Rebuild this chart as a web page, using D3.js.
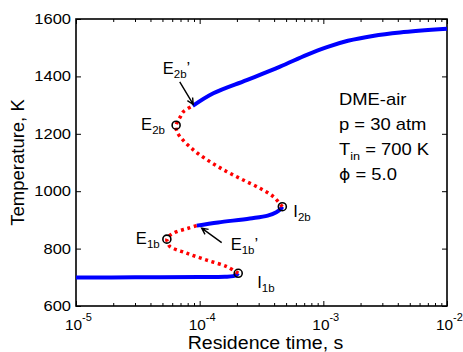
<!DOCTYPE html>
<html lang="en">
<head>
<meta charset="UTF-8">
<title>S-curve DME-air</title>
<style>
  body { margin: 0; background: #fff; }
  text { font-family: "Liberation Sans", Arial, sans-serif; fill: #000; }
</style>
</head>
<body>
<svg></svg>
<script src="https://cdn.jsdelivr.net/npm/d3@7"></script>
<script>
// residence time (s) / temperature (K), branch by branch
var lowTau = [1.0e-5, 3.0e-5, 1.0e-4, 1.6e-4, 1.87e-4, 1.98e-4, 2.05e-4];
var lowT   = [699, 700, 701, 702, 704, 708, 714];

var unst1Tau = [2.05e-4, 1.66e-4, 1.14e-4, 7.85e-5, 5.75e-5, 5.52e-5, 5.43e-5, 5.82e-5, 6.52e-5, 7.94e-5, 9.46e-5];
var unst1T   = [714, 737, 760, 784, 807, 820, 833, 848, 859, 870, 880];

var midTau = [9.46e-5, 1.41e-4, 2.55e-4, 3.55e-4, 4.17e-4, 4.52e-4, 4.66e-4];
var midT   = [880, 891, 905, 915, 927, 938, 946];

var unst2Tau = [4.66e-4, 3.94e-4, 3.08e-4, 2.25e-4, 1.66e-4, 1.21e-4, 8.89e-5, 6.93e-5, 6.5e-5, 6.45e-5, 6.95e-5, 7.38e-5, 8.79e-5];
var unst2T   = [946, 981, 1010, 1039, 1068, 1103, 1144, 1190, 1212, 1230, 1258, 1277, 1297];

var highTau = [8.79e-5, 1.29e-4, 2.40e-4, 4.47e-4, 7.35e-4, 1.07e-3, 1.58e-3, 2.51e-3, 4.17e-3, 1.0e-2];
var highT   = [1297, 1341, 1387, 1434, 1475, 1502, 1524, 1541, 1553, 1566];

// turning points (circles)
var markName = ["I1b", "E1b", "I2b", "E2b"];
var markTau  = [2.05e-4, 5.43e-5, 4.66e-4, 6.45e-5];
var markT    = [714, 833, 946, 1230];

var xTicks = [1e-5, 1e-4, 1e-3, 1e-2];
var xTickExp = ["-5", "-4", "-3", "-2"];
var yTicks = [600, 800, 1000, 1200, 1400, 1600];

var W = 463, H = 352;
var margin = {top: 19, right: 16, bottom: 46, left: 76};

var svg = d3.select("svg").attr("width", W).attr("height", H);

var x = d3.scaleLog().domain([1e-5, 1e-2]).range([margin.left, W - margin.right]);
var y = d3.scaleLinear().domain([600, 1600]).range([H - margin.bottom, margin.top]);

var minorTicks = [];
[-5, -4, -3].forEach(function(e) {
  for (var k = 2; k <= 9; k++) minorTicks.push(k * Math.pow(10, e));
});

// inward ticks on all four sides
function tickGroup(axis, tx, ty) {
  svg.append("g")
    .attr("transform", "translate(" + tx + "," + ty + ")")
    .call(axis)
    .call(function(g) { g.select(".domain").remove(); })
    .call(function(g) { g.selectAll("line").attr("stroke", "#000").attr("stroke-width", 1); });
}
var x0 = margin.left, x1 = W - margin.right, y0 = H - margin.bottom, y1 = margin.top;
tickGroup(d3.axisBottom(x).tickValues(xTicks).tickSize(-5).tickFormat(""), 0, y0);
tickGroup(d3.axisBottom(x).tickValues(minorTicks).tickSize(-3).tickFormat(""), 0, y0);
tickGroup(d3.axisTop(x).tickValues(xTicks).tickSize(-5).tickFormat(""), 0, y1);
tickGroup(d3.axisTop(x).tickValues(minorTicks).tickSize(-3).tickFormat(""), 0, y1);
tickGroup(d3.axisLeft(y).tickValues(yTicks).tickSize(-5).tickFormat(""), x0, 0);
tickGroup(d3.axisRight(y).tickValues(yTicks).tickSize(-5).tickFormat(""), x1, 0);

svg.append("rect")
  .attr("x", x0).attr("y", y1)
  .attr("width", x1 - x0).attr("height", y0 - y1)
  .attr("fill", "none").attr("stroke", "#000").attr("stroke-width", 1.6);

// text squeezed wider like the original figure
function stext(px, py, size, sx) {
  return svg.append("text")
    .attr("transform", "translate(" + px + "," + py + ") scale(" + sx + ",1)")
    .attr("font-size", size);
}

// tick labels
yTicks.forEach(function(v) {
  stext(x0 - 5, y(v) + 5, 14, 1.18).attr("text-anchor", "end").text(v);
});
xTicks.forEach(function(v, i) {
  var t = stext(x(v) - 11, y0 + 23.5, 14, 1.1);
  t.append("tspan").text("10");
  t.append("tspan").attr("font-size", 10).attr("dy", -9).text(xTickExp[i]);
});

// axis titles
stext((x0 + x1) / 2 + 4, 349, 17.5, 1.12).attr("text-anchor", "middle").text("Residence time, s");
svg.append("text")
  .attr("transform", "translate(24," + ((y0 + y1) / 2) + ") rotate(-90)")
  .attr("text-anchor", "middle")
  .attr("font-size", 18.5)
  .text("Temperature, K");

// curves
var line = d3.line()
  .x(function(d) { return x(d[0]); })
  .y(function(d) { return y(d[1]); })
  .curve(d3.curveCatmullRom.alpha(0.5));

function pairs(a, b) { return a.map(function(v, i) { return [v, b[i]]; }); }

var stable = [pairs(lowTau, lowT), pairs(midTau, midT), pairs(highTau, highT)];
var unstable = [pairs(unst1Tau, unst1T), pairs(unst2Tau, unst2T)];

svg.append("g").selectAll("path")
  .data(stable)
  .join("path")
  .attr("d", line)
  .attr("fill", "none")
  .attr("stroke", "#0000ff")
  .attr("stroke-width", 4);

svg.append("g").selectAll("path")
  .data(unstable)
  .join("path")
  .attr("d", line)
  .attr("fill", "none")
  .attr("stroke", "#ff0000")
  .attr("stroke-width", 3.5)
  .attr("stroke-dasharray", "3,3.6");

svg.append("g").selectAll("circle")
  .data(markName)
  .join("circle")
  .attr("cx", function(d, i) { return x(markTau[i]); })
  .attr("cy", function(d, i) { return y(markT[i]); })
  .attr("r", 4)
  .attr("fill", "none")
  .attr("stroke", "#000")
  .attr("stroke-width", 1.6);

// point labels: letter + subscript (+ prime)
function ptLabel(px, py, letter, sub, prime) {
  var t = svg.append("text").attr("x", px).attr("y", py).attr("font-size", 16.5);
  t.append("tspan").text(letter);
  t.append("tspan").attr("font-size", 11.5).attr("dy", 4).text(sub);
  if (prime) t.append("tspan").attr("dy", -4).text("\u2019");
}
function arrow(ax, ay, bx, by) {
  var a = Math.atan2(by - ay, bx - ax), L = 7, s = 0.45;
  var d = "M" + ax + "," + ay + "L" + bx + "," + by +
    "M" + (bx - L * Math.cos(a - s)) + "," + (by - L * Math.sin(a - s)) +
    "L" + bx + "," + by +
    "L" + (bx - L * Math.cos(a + s)) + "," + (by - L * Math.sin(a + s));
  svg.append("path").attr("d", d).attr("fill", "none").attr("stroke", "#000").attr("stroke-width", 1.4);
}

var pI1 = [x(markTau[0]), y(markT[0])];
var pE1 = [x(markTau[1]), y(markT[1])];
var pI2 = [x(markTau[2]), y(markT[2])];
var pE2 = [x(markTau[3]), y(markT[3])];
var pE1s = [x(midTau[0]), y(midT[0])];
var pE2s = [x(highTau[0]), y(highT[0])];

ptLabel(pI1[0] + 19, pI1[1] + 15, "I", "1b", false);
ptLabel(pE1[0] - 31, pE1[1] + 4.5, "E", "1b", false);
ptLabel(pI2[0] + 11, pI2[1] + 10, "I", "2b", false);
ptLabel(pE2[0] - 35, pE2[1] + 4.5, "E", "2b", false);
ptLabel(pE1s[0] + 34, pE1s[1] + 24, "E", "1b", true);
ptLabel(pE2s[0] - 30, pE2s[1] - 32, "E", "2b", true);

arrow(pE1s[0] + 25, pE1s[1] + 17, pE1s[0] + 5, pE1s[1] + 2.5);
arrow(pE2s[0] - 13, pE2s[1] - 24, pE2s[0] + 0.5, pE2s[1] - 1.5);

// case description
var infoX = 339;
stext(infoX, 105, 16, 1.15).text("DME-air");
stext(infoX, 130, 16, 1.15).text("p = 30 atm");
var tin = stext(infoX, 154.5, 16, 1.15);
tin.append("tspan").text("T");
tin.append("tspan").attr("font-size", 11).attr("dy", 5).text("in");
tin.append("tspan").attr("dy", -5).text(" = 700 K");
var phi = stext(infoX, 179.5, 16, 1.15);
phi.append("tspan").attr("font-family", "DejaVu Sans").attr("font-size", 15).text("\u03d5");
phi.append("tspan").text(" = 5.0");
</script>
</body>
</html>
